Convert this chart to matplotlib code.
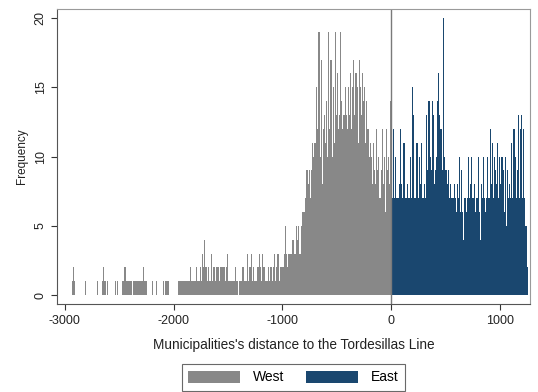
import numpy as np
import matplotlib
matplotlib.use("Agg")
from matplotlib import pyplot as plt
from matplotlib.patches import Patch

# histogram counts, bins of 10 km
# west: from -3000 to 0 (one row per 100 km)
west_counts = [
    0, 0, 0, 0, 0, 0, 0, 1, 2, 1,        # -3000
    0, 0, 0, 0, 0, 0, 0, 0, 0, 1,        # -2900
    0, 0, 0, 0, 0, 0, 0, 0, 0, 0,        # -2800
    1, 0, 0, 0, 1, 2, 1, 1, 0, 1,        # -2700
    0, 0, 0, 0, 0, 0, 1, 0, 1, 0,        # -2600
    0, 0, 0, 1, 1, 2, 1, 1, 1, 1,        # -2500
    1, 1, 0, 1, 1, 1, 1, 1, 1, 1,        # -2400
    1, 1, 2, 1, 1, 1, 0, 0, 0, 0,        # -2300
    1, 0, 0, 0, 1, 0, 0, 0, 0, 0,        # -2200
    1, 0, 1, 1, 1, 1, 0, 0, 0, 0,        # -2100
    0, 0, 0, 0, 1, 1, 1, 1, 1, 1,        # -2000
    1, 1, 1, 1, 1, 2, 1, 1, 1, 1,        # -1900
    1, 2, 1, 1, 2, 1, 3, 2, 4, 2,        # -1800
    2, 1, 2, 1, 3, 1, 2, 2, 1, 2,        # -1700
    2, 2, 1, 2, 2, 2, 2, 1, 2, 3,        # -1600
    1, 1, 1, 1, 1, 1, 2, 1, 1, 0,        # -1500
    1, 1, 1, 2, 2, 1, 1, 3, 1, 2,        # -1400
    2, 3, 1, 2, 1, 1, 1, 2, 3, 2,        # -1300
    1, 3, 2, 2, 1, 1, 1, 2, 1, 2,        # -1200
    1, 2, 3, 1, 2, 3, 3, 1, 2, 2,        # -1100
    2, 3, 5, 3, 2, 3, 3, 3, 3, 4,        # -1000
    4, 3, 5, 4, 5, 3, 3, 5, 6, 6,        # -900
    6, 7, 9, 8, 9, 7, 9, 11, 10, 11,     # -800
    11, 15, 12, 19, 10, 17, 8, 12, 13, 11,   # -700
    14, 10, 19, 12, 17, 10, 15, 11, 19, 13,  # -600
    16, 12, 13, 19, 14, 12, 13, 15, 13, 12,  # -500
    15, 13, 16, 12, 15, 17, 13, 16, 15, 11,  # -400
    17, 15, 13, 16, 14, 15, 11, 14, 12, 10,  # -300
    11, 10, 8, 11, 9, 8, 12, 9, 10, 7,       # -200
    9, 12, 8, 10, 6, 12, 9, 10, 8, 14,       # -100
]

# east: from 0 to 1250
east_counts = [
    7, 12, 7, 10, 7, 7, 7, 8, 12, 8,     # 0
    7, 11, 7, 7, 8, 7, 7, 10, 7, 15,     # 100
    13, 7, 7, 11, 7, 10, 8, 11, 7, 7,    # 200
    8, 7, 13, 9, 14, 10, 9, 14, 13, 8,   # 300
    9, 10, 14, 16, 13, 12, 9, 20, 10, 9, # 400
    9, 8, 9, 7, 8, 7, 7, 8, 7, 6,        # 500
    8, 7, 10, 6, 9, 6, 4, 7, 6, 7,       # 600
    10, 7, 8, 10, 7, 7, 8, 6, 7, 10,     # 700
    6, 4, 8, 7, 10, 7, 6, 7, 10, 7,      # 800
    12, 8, 11, 7, 10, 9, 8, 11, 7, 10,   # 900
    8, 10, 9, 6, 10, 5, 9, 7, 8, 7,      # 1000
    11, 7, 12, 10, 7, 9, 13, 7, 12, 13,  # 1100
    7, 12, 7, 5, 2,                      # 1200
]

bin_width = 10
west_edges = np.arange(-3000, 0 + bin_width, bin_width)
east_edges = np.arange(0, len(east_counts) * bin_width + bin_width, bin_width)

plt.rcParams['font.family'] = ['Liberation Sans', 'DejaVu Sans']
plt.rcParams['axes.unicode_minus'] = False

fig = plt.figure(figsize=(5.38, 3.92), dpi=100)
ax = fig.add_axes([0.106, 0.224, 0.879, 0.753])

gray = '#888888'
navy = '#1a476f'
ax.stairs(west_counts, west_edges, fill=True, color=gray, linewidth=0)
ax.stairs(east_counts, east_edges, fill=True, color=navy, linewidth=0)
ax.axvline(0, color='#7a7a7a', linewidth=1)

ax.set_xlim(-3069, 1271)
ax.set_ylim(-0.65, 20.65)
ax.set_xticks([-3000, -2000, -1000, 0, 1000])
ax.set_yticks([0, 5, 10, 15, 20])
ax.tick_params(axis='both', labelsize=9, length=4, color='#333333', labelcolor='#222222')
for lab in ax.get_yticklabels():
    lab.set_rotation(90)
    lab.set_va('center')
ax.set_xlabel("Municipalities's distance to the Tordesillas Line", fontsize=9.8, color='#222222', labelpad=8)
ax.set_ylabel('Frequency', fontsize=8.5, color='#222222', labelpad=5)
for side in ['top', 'right']:
    ax.spines[side].set_color('#9a9a9a')
for side in ['left', 'bottom']:
    ax.spines[side].set_color('#555555')

handles = [Patch(facecolor=gray, edgecolor='none', label='West'),
           Patch(facecolor=navy, edgecolor='none', label='East')]
leg = fig.legend(handles=handles, loc='lower center', bbox_to_anchor=(0.545, 0.0),
                 ncol=2, fontsize=10, frameon=True, fancybox=False,
                 handlelength=3.75, handleheight=0.95, columnspacing=1.6,
                 borderpad=0.45, handletextpad=0.9, borderaxespad=0.1)
leg.get_frame().set_edgecolor('#444444')
leg.get_frame().set_linewidth(0.8)

fig.savefig('out.png', dpi=100)
